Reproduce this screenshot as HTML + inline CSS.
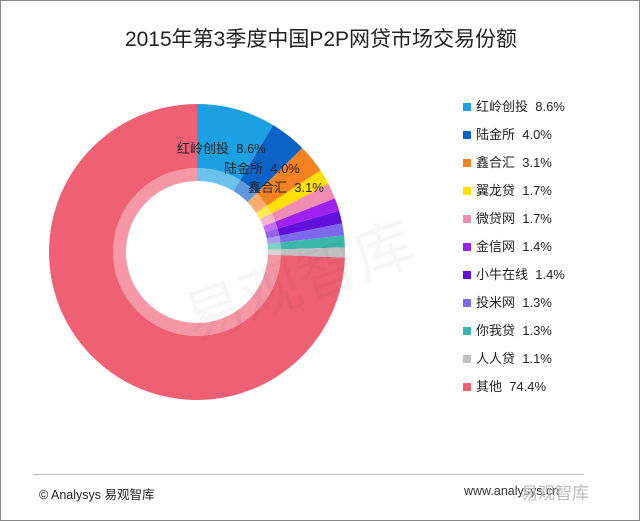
<!DOCTYPE html><html><head><meta charset="utf-8"><style>
body{margin:0;background:#fff;}
#w{position:relative;width:638px;height:519px;border:1px solid #888;background:#fff;font-family:"Liberation Sans","Noto Sans CJK SC",sans-serif;overflow:hidden}
.t{position:absolute;left:0;width:640px;top:22px;text-align:center;font-size:21px;color:#222}
.lg{position:absolute;left:462px;font-size:13px;color:#222}
.lg i{display:inline-block;width:8px;height:8px;margin-right:5px;vertical-align:0}
</style></head><body><div id="w">
<div class="t">2015年第3季度中国P2P网贷市场交易份额</div>
<svg id="s" width="640" height="521" style="position:absolute;left:0;top:0"></svg>
<div id="leg"></div>
<div style="position:absolute;left:32px;top:473px;width:551px;height:1px;background:#bbb"></div>
<div style="position:absolute;left:38px;top:483px;font-size:12.5px;color:#222">© Analysys 易观智库</div>
<div style="position:absolute;left:463px;top:483px;font-size:12.5px;color:#333">www.analysys.cn</div>
<div style="position:absolute;left:520px;top:478px;font-size:17px;color:#bbb">易观智库</div>
</div>
<script>
var d=[["红岭创投","8.6%",8.6,"#1ba1e2"],["陆金所","4.0%",4.0,"#0b63c8"],["鑫合汇","3.1%",3.1,"#f58220"],["翼龙贷","1.7%",1.7,"#ffe000"],["微贷网","1.7%",1.7,"#f08cb4"],["金信网","1.4%",1.4,"#a020f0"],["小牛在线","1.4%",1.4,"#6010d8"],["投米网","1.3%",1.3,"#7b68ee"],["你我贷","1.3%",1.3,"#3cb8a8"],["人人贷","1.1%",1.1,"#c0c0c0"],["其他","74.4%",74.4,"#f06074"]];
var cx=196,cy=251,R=148,r1=84,r0=71,s="",a=0,lg="";
function p(r,t){return [cx+r*Math.sin(t),cy-r*Math.cos(t)];}
function arc(ro,ri,t0,t1,c,op){var l=(t1-t0)>Math.PI?1:0,A=p(ro,t0),B=p(ro,t1),C=p(ri,t1),D=p(ri,t0);
return '<path d="M'+A+'A'+ro+','+ro+' 0 '+l+' 1 '+B+'L'+C+'A'+ri+','+ri+' 0 '+l+' 0 '+D+'Z" fill="'+c+'" opacity="'+op+'"/>';}
d.forEach(function(e,i){var t0=a/100*2*Math.PI;a+=e[2];var t1=a/100*2*Math.PI;
s+=arc(R,r1,t0,t1,e[3],1)+arc(r1,r0,t0,t1,e[3],0.65);
lg+='<div class="lg" style="top:'+(95+i*28)+'px"><i style="background:'+e[3]+'"></i>'+e[0]+'&nbsp; '+e[1]+'</div>';});
s+='<text x="176" y="152" font-size="13" fill="#222" font-family="Liberation Sans,Noto Sans CJK SC,sans-serif">红岭创投&#160; 8.6%</text>';
s+='<text x="223" y="172" font-size="13" fill="#222" font-family="Liberation Sans,Noto Sans CJK SC,sans-serif">陆金所&#160; 4.0%</text>';
s+='<text x="247" y="191" font-size="13" fill="#222" font-family="Liberation Sans,Noto Sans CJK SC,sans-serif">鑫合汇&#160; 3.1%</text>';
s+='<text x="175" y="300" font-size="60" fill="#000" opacity="0.03" transform="rotate(-20 300 270)" font-family="Noto Sans CJK SC,sans-serif">易观智库</text>';
document.getElementById("s").innerHTML=s;document.getElementById("leg").innerHTML=lg;
</script></body></html>
